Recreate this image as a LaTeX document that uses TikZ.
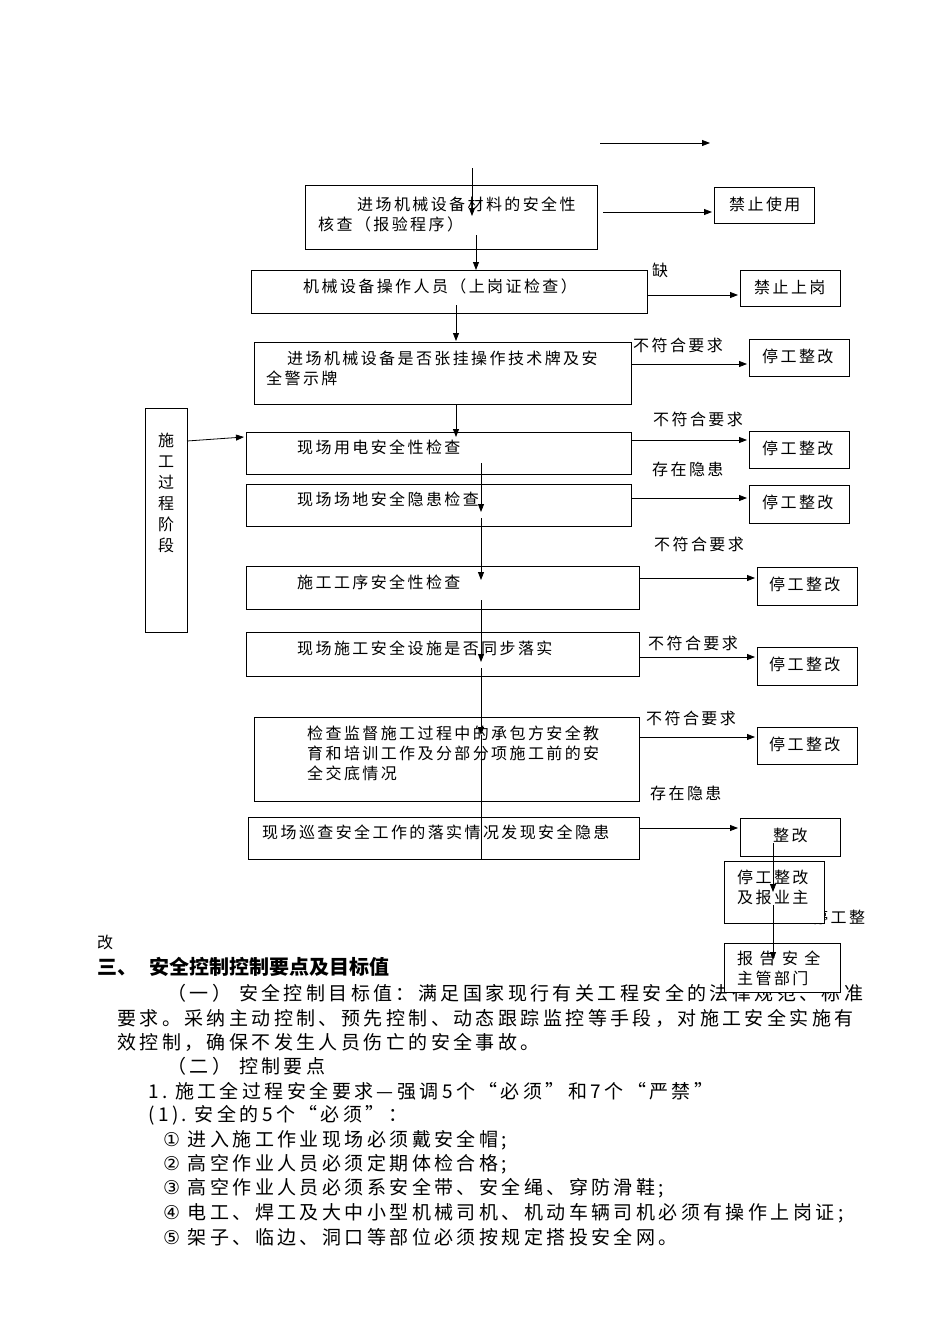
\documentclass[tikz,border=0pt]{standalone}
\usepackage{fontspec}
\setmainfont{Noto Sans CJK SC}
\newfontfamily\fc[LetterSpace=15]{Noto Sans CJK SC}
\newfontfamily\fw[LetterSpace=40]{Noto Sans CJK SC}
\newfontfamily\fb[LetterSpace=18]{Noto Sans CJK SC}
\newfontfamily\fd{DejaVu Sans}
\usetikzlibrary{arrows.meta}
\begin{document}
\begin{tikzpicture}[x=1pt,y=-1pt,
  bx/.style={draw,line width=1pt},
  t/.style={anchor=west,inner sep=0,font=\fc\fontsize{16}{21}\selectfont},
  b/.style={anchor=west,inner sep=0,font=\fb\fontsize{19}{24}\selectfont},
  ar/.style={-{Triangle[length=8pt,width=6pt]},line width=0.8pt},
  ln/.style={line width=0.8pt}]
\useasboundingbox[fill=white] (0,0) rectangle (950,1344);
% body text
\node[t] (gai) at (97,942) {改};
\node[b,font=\bfseries\fontsize{20}{24}\selectfont] (h3) at (97,967) {三、\hspace{12pt}安全控制控制要点及目标值};
\node[b] (p1) at (167,993) {（一）\hspace{8pt}安全控制目标值：满足国家现行有关工程安全的法律规范、标准};
\node[b] (p2) at (117,1018) {要求。采纳主动控制、预先控制、动态跟踪监控等手段，对施工安全实施有};
\node[b] (p3) at (117,1042) {效控制，确保不发生人员伤亡的安全事故。};
\node[b] (p4) at (167,1066) {（二）\hspace{8pt}控制要点};
\node[b] (p5) at (148,1091) {1.\ 施工全过程安全要求—强调5个“必须”和7个“严禁”};
\node[b] (p6) at (148,1115) {(1).\ 安全的5个“必须”：};
\node[b] (q1) at (163,1140) {{\fd ①}\ 进入施工作业现场必须戴安全帽;};
\node[b] (q2) at (163,1164) {{\fd ②}\ 高空作业人员必须定期体检合格;};
\node[b] (q3) at (163,1188) {{\fd ③}\ 高空作业人员必须系安全带、安全绳、穿防滑鞋;};
\node[b] (q4) at (163,1213) {{\fd ④}\ 电工、焊工及大中小型机械司机、机动车辆司机必须有操作上岗证;};
\node[b] (q5) at (163,1237) {{\fd ⑤}\ 架子、临边、洞口等部位必须按规定搭投安全网。};
\node[t] (frag) at (812,917) {停工整};
% boxes
\draw[bx] (305,185) rectangle (597,249);
\node[t] (At) at (357,204) {进场机械设备材料的安全性};
\node[t] (At2) at (318,224) {核查（报验程序）};
\draw[bx] (714,187) rectangle (814,223);
\node[t] (r1) at (729,204) {禁止使用};
\draw[bx] (251,270) rectangle (647,313);
\node[t] (Bt) at (303,286) {机械设备操作人员（上岗证检查）};
\node[t] (que) at (652,270) {缺};
\draw[bx] (740,270) rectangle (840,306);
\node[t] (r2) at (754,287) {禁止上岗};
\draw[bx] (254,342) rectangle (631,404);
\node[t] (Ct) at (287,358) {进场机械设备是否张挂操作技术牌及安};
\node[t] (Ct2) at (266,378) {全警示牌};
\node[t] (l1) at (633,345) {不符合要求};
\draw[bx] (749,339) rectangle (849,376);
\node[t] (r3) at (762,356) {停工整改};
\draw[bx] (145,408) rectangle (187,632);
\node[inner sep=0,font=\fc\fontsize{16}{21}\selectfont,align=center] (side) at (166,493) {施\\工\\过\\程\\阶\\段};
\draw[bx] (246,432) rectangle (631,474);
\node[t] (Dt) at (297,447) {现场用电安全性检查};
\node[t] (l2) at (653,419) {不符合要求};
\draw[bx] (749,431) rectangle (849,468);
\node[t] (r4) at (762,448) {停工整改};
\node[t] (l3) at (652,469) {存在隐患};
\draw[bx] (246,484) rectangle (631,526);
\node[t] (Et) at (297,499) {现场场地安全隐患检查};
\draw[bx] (749,485) rectangle (849,523);
\node[t] (r5) at (762,502) {停工整改};
\node[t] (l4) at (654,544) {不符合要求};
\draw[bx] (246,566) rectangle (639,609);
\node[t] (Ft) at (297,582) {施工工序安全性检查};
\draw[bx] (757,567) rectangle (857,605);
\node[t] (r6) at (769,584) {停工整改};
\draw[bx] (246,632) rectangle (639,676);
\node[t] (Gt) at (297,648) {现场施工安全设施是否同步落实};
\node[t] (l5) at (648,643) {不符合要求};
\draw[bx] (757,647) rectangle (857,685);
\node[t] (r7) at (769,664) {停工整改};
\draw[bx] (254,717) rectangle (639,801);
\node[t] (Ht) at (307,733) {检查监督施工过程中的承包方安全教};
\node[t] (Ht2) at (307,753) {育和培训工作及分部分项施工前的安};
\node[t] (Ht3) at (307,773) {全交底情况};
\node[t] (l6) at (646,718) {不符合要求};
\draw[bx] (757,727) rectangle (857,764);
\node[t] (r8) at (769,744) {停工整改};
\node[t] (l7) at (650,793) {存在隐患};
\draw[bx] (248,817) rectangle (639,859);
\node[t] (It) at (262,832) {现场巡查安全工作的落实情况发现安全隐患};
\draw[bx] (740,818) rectangle (840,856);
\node[t] (r9) at (773,835) {整改};
\draw[bx,fill=white] (724,861) rectangle (824,923);
\node[t] (s1) at (737,877) {停工整改};
\node[t] (s2) at (737,897) {及报业主};
\draw[bx,fill=white] (724,943) rectangle (840,992);
\node[t,font=\fw\fontsize{16}{21}\selectfont] (s3) at (737,958) {报告安全};
\node[t] (s4) at (737,978) {主管部门};
% connectors
\coordinate (t1) at (600,143); \coordinate (t2) at (710,143);
\draw[ar] (t1) -- (t2);
\coordinate (v0) at (472,168); \coordinate (v1) at (472,216);
\draw[ar] (v0) -- (v1);
\coordinate (v2) at (476,235); \coordinate (v3) at (476,270);
\draw[ar] (v2) -- (v3);
\coordinate (v4) at (456,305); \coordinate (v5) at (456,341);
\draw[ar] (v4) -- (v5);
\coordinate (v6) at (456,404); \coordinate (v7) at (456,437);
\draw[ar] (v6) -- (v7);
\foreach \a/\b in {463/512,518/580,600/662,668/735}{
  \coordinate (ma) at (481,\a); \coordinate (mb) at (481,\b);
  \draw[ar] (ma) -- (mb);}
\coordinate (m1) at (481,735); \coordinate (m2) at (481,860);
\draw[ln] (m1) -- (m2);
\coordinate (h1) at (603,212); \coordinate (h2) at (712,212);
\draw[ar] (h1) -- (h2);
\coordinate (h3) at (647,295); \coordinate (h4) at (738,295);
\draw[ar] (h3) -- (h4);
\coordinate (h5) at (631,364); \coordinate (h6) at (747,364);
\draw[ar] (h5) -- (h6);
\coordinate (h7) at (631,440); \coordinate (h8) at (747,440);
\draw[ar] (h7) -- (h8);
\coordinate (h9) at (631,498); \coordinate (h10) at (747,498);
\draw[ar] (h9) -- (h10);
\coordinate (h11) at (639,578); \coordinate (h12) at (755,578);
\draw[ar] (h11) -- (h12);
\coordinate (h13) at (639,657); \coordinate (h14) at (755,657);
\draw[ar] (h13) -- (h14);
\coordinate (h15) at (639,737); \coordinate (h16) at (755,737);
\draw[ar] (h15) -- (h16);
\coordinate (h17) at (639,828); \coordinate (h18) at (738,828);
\draw[ar] (h17) -- (h18);
\coordinate (h19) at (187,441); \coordinate (h20) at (244,437);
\draw[ar] (h19) -- (h20);
\coordinate (w1) at (773,843); \coordinate (w2) at (773,892);
\draw[ar] (w1) -- (w2);
\coordinate (w3) at (773,905); \coordinate (w4) at (773,960);
\draw[ar] (w3) -- (w4);
\end{tikzpicture}
\end{document}
